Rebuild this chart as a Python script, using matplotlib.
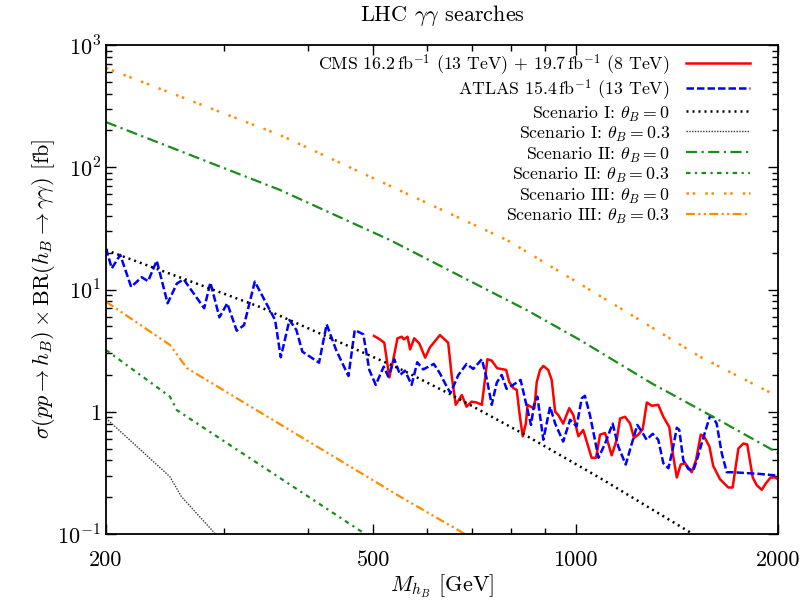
import matplotlib
matplotlib.use("Agg")
import matplotlib.pyplot as plt
from matplotlib.ticker import FixedLocator, FixedFormatter, NullFormatter

plt.rcParams["font.family"] = "serif"
plt.rcParams["font.serif"] = ["cmr10"]
plt.rcParams["mathtext.fontset"] = "cm"
plt.rcParams["axes.formatter.use_mathtext"] = True

# ATLAS 15.4 fb^-1 (13 TeV) expected limit
m_atlas = [200, 204, 210, 218, 226, 231, 238, 247, 255, 261, 280, 286, 295, 303, 313, 321,
           333, 357, 364, 375, 384, 392, 415, 426, 440, 459, 469, 483, 493, 504, 518, 526,
           537, 548, 557, 570, 581, 593, 615, 628, 639, 651, 669, 688, 704, 725, 737, 750,
           763, 776, 789, 807, 828, 840, 858, 867, 877, 895, 916, 932, 958, 981, 1003, 1021,
           1032, 1050, 1068, 1081, 1106, 1135, 1157, 1187, 1212, 1235, 1254, 1275, 1302, 1327,
           1350, 1374, 1394, 1414, 1426, 1446, 1471, 1496, 1514, 1548, 1584, 1599, 1621, 1649,
           1678, 1716, 1880, 2000]
sigma_atlas = [21.7, 14.9, 19.2, 10.5, 12.6, 11.7, 17.2, 7.71, 11.2, 12.1, 7.02, 11.4, 5.92,
               7.71, 4.60, 5.12, 11.6, 5.63, 2.79, 5.63, 4.66, 3.10, 2.52, 5.19, 3.20, 1.96,
               4.66, 4.30, 2.20, 1.66, 2.34, 1.94, 2.69, 2.00, 2.17, 1.66, 2.54, 2.22, 2.46,
               2.06, 1.71, 1.42, 2.00, 2.46, 2.24, 2.69, 1.88, 1.14, 1.73, 2.00, 1.54, 1.66,
               1.82, 1.29, 0.78, 1.14, 1.33, 0.59, 1.10, 0.80, 0.57, 0.86, 0.76, 1.29, 1.35,
               0.94, 0.59, 0.42, 0.55, 0.80, 0.52, 0.37, 0.55, 0.78, 0.69, 0.59, 0.66, 0.59,
               0.38, 0.345, 0.49, 0.74, 0.71, 0.40, 0.34, 0.33, 0.40, 0.61, 0.92, 0.91, 0.80,
               0.46, 0.32, 0.32, 0.31, 0.30]

# CMS 16.2 fb^-1 (13 TeV) + 19.7 fb^-1 (8 TeV)
m_cms = [501, 511, 519, 528, 535, 543, 551, 555, 562, 567, 575, 585, 597, 607, 628, 646, 654,
         663, 677, 688, 700, 712, 725, 739, 750, 764, 788, 796, 808, 817, 826, 834, 843, 848,
         860, 868, 875, 885, 895, 910, 921, 932, 942, 958, 978, 992, 1009, 1026, 1056, 1072,
         1087, 1106, 1114, 1131, 1151, 1164, 1184, 1205, 1221, 1239, 1258, 1276, 1298, 1327,
         1350, 1378, 1397, 1414, 1433, 1454, 1488, 1510, 1535, 1552, 1581, 1602, 1640, 1687,
         1712, 1746, 1776, 1800, 1834, 1860, 1892, 1919, 1950, 1980, 2000]
sigma_cms = [4.17, 3.91, 3.67, 1.91, 2.65, 3.99, 4.11, 3.91, 4.11, 3.24, 3.99, 3.63, 2.77,
             3.37, 4.24, 3.67, 1.94, 1.14, 1.37, 1.10, 1.21, 1.19, 1.14, 2.69, 2.62, 2.27,
             2.20, 1.76, 1.56, 1.51, 0.91, 0.63, 0.80, 1.14, 1.09, 1.07, 1.75, 2.20, 2.37,
             2.20, 1.82, 1.00, 0.94, 0.80, 1.07, 0.94, 0.63, 0.71, 0.42, 0.42, 0.65, 0.67,
             0.59, 0.44, 0.59, 0.88, 0.91, 0.80, 0.61, 0.65, 0.72, 1.19, 1.12, 1.14, 0.91,
             0.75, 0.43, 0.29, 0.37, 0.38, 0.32, 0.40, 0.65, 0.63, 0.52, 0.36, 0.28, 0.24,
             0.24, 0.50, 0.55, 0.54, 0.29, 0.25, 0.23, 0.26, 0.29, 0.29, 0.28]

# model predictions
m_s1_0 = [200, 339, 548, 654, 826, 1087, 1494]
s_s1_0 = [21.0, 7.19, 2.24, 1.37, 0.683, 0.287, 0.1]
m_s1_3 = [200, 249, 259, 291]
s_s1_3 = [0.884, 0.294, 0.202, 0.1]
m_s2_0 = [200, 363, 529, 790, 845, 1015, 1304, 1382, 1600, 2000]
s_s2_0 = [234, 65.2, 25.4, 8.21, 6.80, 3.86, 1.68, 1.415, 0.911, 0.46]
m_s2_3 = [200, 249, 255, 486]
s_s2_3 = [3.20, 1.33, 1.03, 0.1]
m_s3_0 = [200, 363, 790, 1112, 1531, 2000]
s_s3_0 = [649, 183.5, 25.4, 8.21, 2.82, 1.33]
m_s3_3 = [200, 249, 264, 548, 684]
s_s3_3 = [7.95, 3.52, 2.27, 0.202, 0.1]

green = "#1a8c1a"
orange = "#ff8c00"

fig = plt.figure(figsize=(8.09, 6.09), dpi=100)
ax = fig.add_axes([106 / 809, 1 - 534 / 609, 672 / 809, 489 / 609])

ax.plot(m_cms, sigma_cms, color="red", lw=1.8, label=r"CMS $16.2\,\mathrm{fb}^{-1}$ (13 TeV) + $19.7\,\mathrm{fb}^{-1}$ (8 TeV)")
ax.plot(m_atlas, sigma_atlas, color="blue", lw=1.8, dashes=(3, 1.2), label=r"ATLAS $15.4\,\mathrm{fb}^{-1}$ (13 TeV)")
ax.plot(m_s1_0, s_s1_0, color="black", lw=1.8, dashes=(0.8, 1.6), label=r"Scenario I: $\theta_B=0$")
ax.plot(m_s1_3, s_s1_3, color="#333333", lw=1.0, dashes=(1, 1), label=r"Scenario I: $\theta_B=0.3$")
ax.plot(m_s2_0, s_s2_0, color=green, lw=1.6, dashes=(5, 2, 1, 2), label=r"Scenario II: $\theta_B=0$")
ax.plot(m_s2_3, s_s2_3, color=green, lw=1.6, dashes=(2, 2, 1, 2), label=r"Scenario II: $\theta_B=0.3$")
ax.plot(m_s3_0, s_s3_0, color=orange, lw=1.8, dashes=(1, 1.5, 1, 4), label=r"Scenario III: $\theta_B=0$")
ax.plot(m_s3_3, s_s3_3, color=orange, lw=1.6, dashes=(4, 1.5, 1, 1.5, 1, 1.5), label=r"Scenario III: $\theta_B=0.3$")

ax.set_xscale("log")
ax.set_yscale("log")
ax.set_xlim(200, 2000)
ax.set_ylim(0.1, 1000)

ax.xaxis.set_major_locator(FixedLocator([200, 500, 1000, 2000]))
ax.xaxis.set_major_formatter(FixedFormatter(["200", "500", "1000", "2000"]))
ax.xaxis.set_minor_locator(FixedLocator([300, 400, 600, 700, 800, 900]))
ax.xaxis.set_minor_formatter(NullFormatter())
ax.yaxis.set_major_locator(FixedLocator([0.1, 1, 10, 100, 1000]))
ax.yaxis.set_major_formatter(FixedFormatter([r"$10^{-1}$", r"$1$", r"$10^{1}$", r"$10^{2}$", r"$10^{3}$"]))
ax.yaxis.set_minor_locator(FixedLocator([k * 10.0 ** e for e in range(-1, 3) for k in range(2, 10)]))
ax.yaxis.set_minor_formatter(NullFormatter())

ax.tick_params(which="both", direction="in", top=True, right=True, labelsize=16)
ax.tick_params(which="major", length=7, width=1)
ax.tick_params(which="minor", length=4, width=1)
ax.tick_params(axis="x", which="major", pad=12)
for s in ax.spines.values():
    s.set_linewidth(1.3)

ax.set_title(r"LHC $\gamma\gamma$ searches", fontsize=16, pad=17)
ax.set_xlabel(r"$M_{h_B}$ [GeV]", fontsize=16, labelpad=2)
ax.set_ylabel(r"$\sigma(pp\to h_B)\times\mathrm{BR}(h_B\to\gamma\gamma)$ [fb]", fontsize=16, labelpad=0)

ax.legend(loc="upper right", bbox_to_anchor=(0.958, 0.984), frameon=False, markerfirst=False,
          fontsize=12.8, handlelength=3.6, handleheight=1.28, labelspacing=0.0, handletextpad=0.9,
          borderpad=0, borderaxespad=0)

fig.savefig("out.png", dpi=100)
